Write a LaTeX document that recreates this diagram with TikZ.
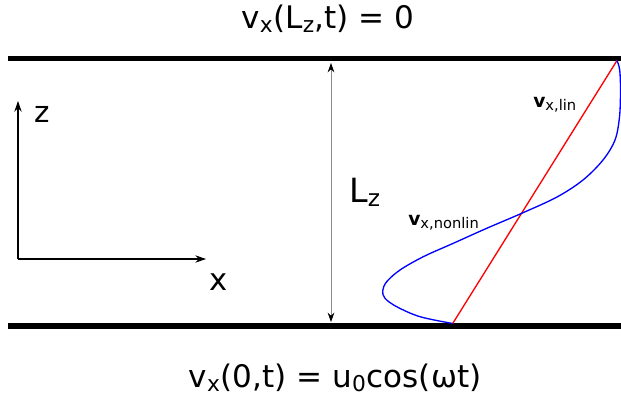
\documentclass[tikz,border=0pt]{standalone}
\usepackage{fontspec}
\setmainfont{DejaVu Sans}
\usetikzlibrary{arrows.meta}
\begin{document}
\begin{tikzpicture}[x=0.75pt,y=-0.75pt,
  wall/.style={line width=4.1pt},
  axis/.style={line width=0.8pt,-{Stealth[length=8pt,width=5.5pt]}},
  dim/.style={line width=0.6pt,draw=black!45,{Stealth[length=7pt,width=5pt,black]}-{Stealth[length=7pt,width=5pt,black]}},
  lab/.style={inner sep=0pt},
  big/.style={font=\fontsize{23.3}{27}\selectfont},
  prof/.style={line width=1pt}]
\useasboundingbox (0,0) rectangle (621,411);
% walls
\coordinate (tl) at (8,58.5); \coordinate (tr) at (621,58.5);
\coordinate (bl) at (8,326);  \coordinate (br) at (621,326);
\draw[wall] (tl) -- (tr);
\draw[wall] (bl) -- (br);
% boundary conditions
\node[lab,big,anchor=base] (top) at (328,28) {v\textsubscript{x}(L\textsubscript{z},t) = 0};
\node[lab,big,anchor=base] (bot) at (335,387) {v\textsubscript{x}(0,t) = u\textsubscript{0}cos(ωt)};
% axes
\coordinate (o) at (18,259);
\coordinate (zt) at (18,101);
\coordinate (xt) at (206,259);
\draw[axis] (o) -- (zt);
\draw[axis] (o) -- (xt);
\node[lab,font=\fontsize{22}{26}\selectfont,anchor=base west] (zl) at (34,122) {z};
\node[lab,font=\fontsize{23}{27}\selectfont,anchor=base west] (xl) at (209,290) {x};
% L_z dimension
\coordinate (la) at (331,63);
\coordinate (lb) at (331,322);
\draw[dim] (la) -- (lb);
\node[lab,font=\fontsize{25}{29}\selectfont,anchor=base west] (lz) at (349,202) {L\textsubscript{z}};
% profiles
\coordinate (p0) at (452.7,323.5);
\coordinate (p1) at (617,60.5);
\draw[prof,red] (p0) -- (p1);
\draw[prof,blue] plot[smooth,tension=0.55] coordinates {(452.7,323.5) (420,316.7) (396.7,306.7) (385,298.3) (382.7,290.7) (386.7,281.7) (400,270) (423.3,256.7) (453.3,243.3) (486.7,228.3) (521.7,213.3) (557,197) (583,180) (603,160) (615,140) (619.5,117) (620.5,90) (619.7,70) (617,60.5)};
% labels
\node[lab,anchor=base west] (vlin) at (533,107) {\fontsize{14}{16}\selectfont\bfseries v\raisebox{-0.3ex}{\fontsize{11}{13}\selectfont\mdseries x,lin}};
\node[lab,anchor=base west] (vnon) at (408,225) {\fontsize{14}{16}\selectfont\bfseries v\raisebox{-0.3ex}{\fontsize{11}{13}\selectfont\mdseries x,nonlin}};
\end{tikzpicture}
\end{document}
